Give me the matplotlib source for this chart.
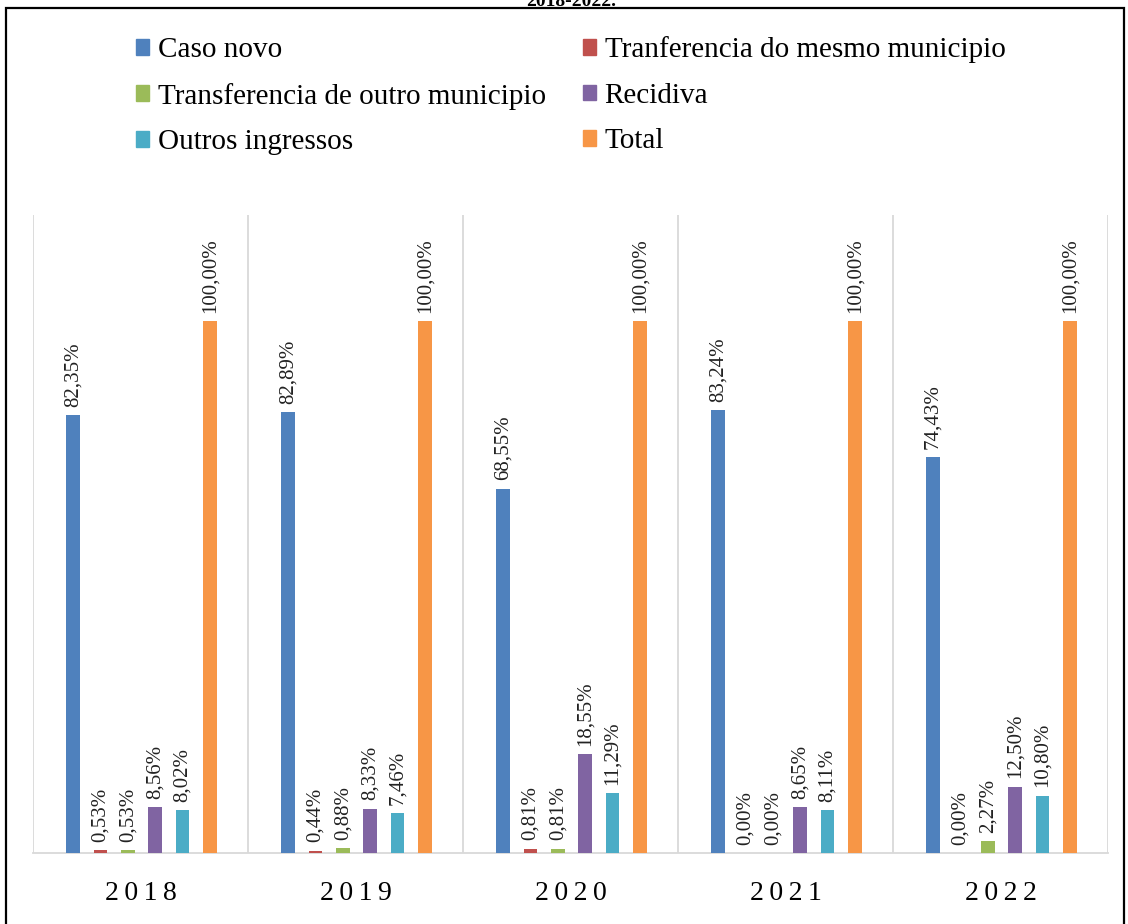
import numpy as np
import matplotlib
matplotlib.use("Agg")
import matplotlib.pyplot as plt
from matplotlib.patches import Rectangle, Patch

plt.rcParams['font.family'] = ['Liberation Serif', 'DejaVu Serif']

# === data ===
years = ["2018", "2019", "2020", "2021", "2022"]
series_names = [
    "Caso novo",
    "Tranferencia do mesmo municipio",
    "Transferencia de outro municipio",
    "Recidiva",
    "Outros ingressos",
    "Total",
]
caso_novo = [82.35, 82.89, 68.55, 83.24, 74.43]
transf_mesmo = [0.53, 0.44, 0.81, 0.00, 0.00]
transf_outro = [0.53, 0.88, 0.81, 0.00, 2.27]
recidiva = [8.56, 8.33, 18.55, 8.65, 12.50]
outros = [8.02, 7.46, 11.29, 8.11, 10.80]
total = [100.0, 100.0, 100.0, 100.0, 100.0]

colors = ["#4f81bd", "#c0504d", "#9bbb59", "#8064a2", "#4bacc6", "#f79646"]


def pct(v):
    return f"{v:.2f}%".replace(".", ",")


def main():
    fig = plt.figure(figsize=(11.28, 9.24), dpi=100)
    ax = fig.add_axes([33 / 1128, 1 - 853 / 924, 1075 / 1128, 638 / 924])

    all_series = [caso_novo, transf_mesmo, transf_outro, recidiva, outros, total]
    x = np.arange(len(years))
    slot = 0.1274
    width = 0.063

    for i, (vals, c) in enumerate(zip(all_series, colors)):
        pos = x + (i - 2.5) * slot + 0.005
        bars = ax.bar(pos, vals, width=width, color=c, zorder=3)
        for b, v in zip(bars, vals):
            ax.annotate(pct(v), (b.get_x() + b.get_width() / 2, v),
                        xytext=(0, 6), textcoords="offset points",
                        rotation=90, ha="center", va="bottom",
                        fontsize=15, color="#222222")

    ax.set_xlim(-0.5, len(years) - 0.5)
    ax.set_ylim(0, 120)
    ax.set_yticks([])
    ax.set_xticks(x)
    # digits in the original are spread out, use thin spaces
    ax.set_xticklabels(["\u2009".join(y) for y in years], fontsize=20)
    ax.tick_params(axis="x", length=0, pad=20)

    # vertical separators between categories
    for b in np.arange(-0.5, len(years), 1.0):
        ax.axvline(b, color="#d9d9d9", lw=1.3, zorder=1)

    for s in ["top", "left", "right"]:
        ax.spines[s].set_visible(False)
    ax.spines["bottom"].set_color("#d9d9d9")
    ax.spines["bottom"].set_linewidth(1.3)

    # legend (row-wise order in 2 columns)
    handles = [Patch(facecolor=c, edgecolor=c) for c in colors]
    order = [0, 2, 4, 1, 3, 5]
    fig.legend([handles[i] for i in order], [series_names[i] for i in order],
               ncol=2, loc="upper left", bbox_to_anchor=(110 / 1128, 1 - 10 / 924),
               frameon=False, fontsize=21, handlelength=0.45, handleheight=0.45,
               handletextpad=0.3, columnspacing=1.25, labelspacing=0.67)

    # clipped title remnant and outer frame
    fig.text(0.506, 1 - 1 / 924, "2018-2022.", ha="center", va="center",
             fontsize=14, fontweight="bold")
    fig.patches.append(Rectangle((6 / 1128, -0.05), 1118 / 1128, 1.05 - 8 / 924,
                                 transform=fig.transFigure, fill=False,
                                 edgecolor="black", lw=1.6))

    fig.savefig("out.png", dpi=100)


if __name__ == "__main__":
    main()
